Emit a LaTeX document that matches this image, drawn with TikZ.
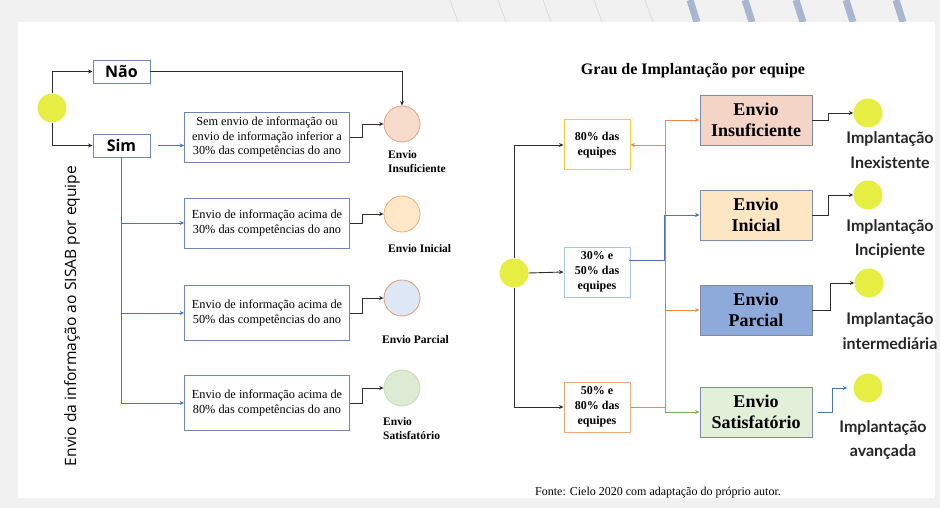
\documentclass[tikz,border=0pt]{standalone}
\usepackage{fontspec}
\setmainfont{Liberation Serif}
\newfontfamily\osans{Open Sans}
\newfontfamily\lato{Lato}
\usetikzlibrary{arrows.meta,calc}
\definecolor{pagegray}{HTML}{F1F1F1}
\definecolor{ylw}{HTML}{E6EE44}
\definecolor{bxblue}{HTML}{6F87B8}
\definecolor{lnblack}{HTML}{2E2E2E}
\definecolor{lnblue}{HTML}{4A72C0}
\definecolor{lnorange}{HTML}{EE8A45}
\definecolor{lngreen}{HTML}{78B050}
\definecolor{stripe}{HTML}{A9B6D2}
\definecolor{faint}{HTML}{D8D8D8}
\definecolor{cInsF}{HTML}{F8DCCB}\definecolor{cInsD}{HTML}{DDA287}
\definecolor{cIniF}{HTML}{FDE7C8}\definecolor{cIniD}{HTML}{E9B070}
\definecolor{cParF}{HTML}{DDE7F5}\definecolor{cParD}{HTML}{D9A07A}
\definecolor{cSatF}{HTML}{DDEBD4}\definecolor{cSatD}{HTML}{C8DDBA}
\definecolor{rInsF}{HTML}{F4D4C6}
\definecolor{rIniF}{HTML}{FCE6C3}
\definecolor{rParF}{HTML}{8EAADB}
\definecolor{rSatF}{HTML}{E2EFD9}
\definecolor{rBorder}{HTML}{7D8BA8}
\definecolor{gold}{HTML}{F2C744}
\definecolor{paleblue}{HTML}{A8C6E0}
\definecolor{paleorange}{HTML}{F0A877}
\definecolor{labgray}{HTML}{262626}
\tikzset{
  ycirc/.style={circle,fill=ylw,draw=none,minimum size=29pt,inner sep=0pt},
  sbox/.style={draw=bxblue,line width=0.9pt,minimum width=57pt,minimum height=23pt,inner sep=0pt,font=\osans\bfseries\fontsize{16}{18}\selectfont},
  tbox/.style={draw=bxblue,line width=0.8pt,minimum width=165pt,inner sep=0pt,align=center,font=\fontsize{12.3}{14.4}\selectfont},
  ecirc/.style={circle,minimum size=36pt,inner sep=0pt,line width=0.8pt},
  elab/.style={font=\bfseries\fontsize{11.5}{14.5}\selectfont,align=left,inner sep=0pt},
  pbox/.style={line width=1pt,minimum width=66pt,minimum height=50pt,inner sep=0pt,align=center,fill=white,font=\bfseries\fontsize{12}{15}\selectfont},
  rbox/.style={draw=rBorder,line width=0.9pt,minimum width=112pt,minimum height=50pt,inner sep=0pt,align=center,font=\bfseries\fontsize{18}{21.5}\selectfont},
  ilab/.style={text=labgray,font=\lato\bfseries\fontsize{16}{24.5}\selectfont,align=center,inner sep=0pt},
  ablk/.style={draw=lnblack,line width=0.9pt,-{Stealth[length=4.5pt,width=4pt]}},
  ablu/.style={draw=lnblue,line width=0.8pt,-{Stealth[length=4.5pt,width=4pt]}},
  aorg/.style={draw=lnorange,line width=0.8pt,-{Stealth[length=4.5pt,width=4pt]}},
  agrn/.style={draw=lngreen,line width=0.8pt,-{Stealth[length=4.5pt,width=4pt]}},
}
\begin{document}
\begin{tikzpicture}[x=1pt,y=-1pt]
\useasboundingbox (0,0) rectangle (940,508);
% background
\fill[pagegray] (0,0) rectangle (940,508);
\foreach \xx in {450,498,543,594,645}{\draw[faint,line width=0.6pt] (\xx,0) -- (\xx+8,22);}
\foreach \xx in {690,745,796,846,896}{\draw[stripe,line width=7pt] (\xx,0) -- (\xx+7,22);}
\fill[white] (18,22) rectangle (935,498);

% ---------------- left diagram ----------------
\node[ycirc] (c1) at (52,108) {};
\node[sbox] (nao) at (121.5,71.5) {Não};
\node[sbox] (sim) at (121.5,145.5) {Sim};
\draw[ablk] (c1.north) |- (nao.west);
\draw[ablk] (c1.south) |- (sim.west);

\node[tbox,minimum height=50pt] (b1) at (267,137) {Sem envio de informação ou\\envio de informação inferior a\\30\% das competências do ano};
\node[tbox,minimum height=50pt] (b2) at (267,223) {Envio de informação acima de\\30\% das competências do ano};
\node[tbox,minimum height=55pt] (b3) at (267,313) {Envio de informação acima de\\50\% das competências do ano};
\node[tbox,minimum height=55pt] (b4) at (267,403) {Envio de informação acima de\\80\% das competências do ano};

\node[ecirc,fill=cInsF,draw=cInsD] (e1) at (402,124) {};
\node[ecirc,fill=cIniF,draw=cIniD] (e2) at (402,214) {};
\node[ecirc,fill=cParF,draw=cParD] (e3) at (402,298) {};
\node[ecirc,fill=cSatF,draw=cSatD] (e4) at (402,388) {};

\node[elab,anchor=north west] (l1) at (388,150) {Envio\\Insuficiente};
\node[elab,anchor=west] (l2) at (388,249) {Envio Inicial};
\node[elab,anchor=west] (l3) at (382,340) {Envio Parcial};
\node[elab,anchor=north west] (l4) at (383,417) {Envio\\Satisfatório};

\draw[ablk] (nao.east) -| (e1.north);
\draw[ablu,shorten <=8pt] (sim.east) -- (sim.east -| b1.west);
\draw[ablu] (sim.south) |- (b2.west);
\draw[ablu] (sim.south) |- (b3.west);
\draw[ablu] (sim.south) |- (b4.west);
\foreach \b/\e in {b1/e1,b2/e2,b3/e3,b4/e4}{
  \draw[ablk] (\b.east) -- ++(13,0) |- (\e.west);
}

\node[font=\osans\fontsize{15.6}{18}\selectfont,rotate=90] (side) at (72,316) {Envio da informação ao SISAB por equipe};

% ---------------- right diagram ----------------
\node[font=\bfseries\fontsize{16}{18}\selectfont] (title) at (693,71) {Grau de Implantação por equipe};

\node[ycirc] (c2) at (514,273) {};
\node[pbox,draw=gold] (p1) at (597,145) {80\% das\\equipes};
\node[pbox,draw=paleblue] (p2) at (597,272) {30\% e\\50\% das\\equipes};
\node[pbox,draw=paleorange] (p3) at (597,407) {50\% e\\80\% das\\equipes};
\draw[ablk] (c2.north) |- (p1.west);
\draw[ablk] (c2.east) -- (p2.west);
\draw[ablk] (c2.south) |- (p3.west);

\node[rbox,fill=rInsF] (r1) at (756,120) {Envio\\Insuficiente};
\node[rbox,fill=rIniF] (r2) at (756,215) {Envio\\Inicial};
\node[rbox,fill=rParF] (r3) at (756,310) {Envio\\Parcial};
\node[rbox,fill=rSatF] (r4) at (756,412) {Envio\\Satisfatório};

\coordinate (jt) at (665,145);
\draw[aorg] (jt) -- (p1.east);
\draw[aorg] (jt) |- (r1.west);
\draw[agrn] (jt) |- (r4.west);
\draw[ablu] ($(p2.east)+(-2,-12)$) -| ($(jt)+(-1,70)$) |- (r2.west);
\draw[aorg] (p3.east) -| ($(jt)+(0,165)$) |- (r3.west);

\node[ycirc] (y1) at (868,113) {};
\node[ycirc] (y2) at (868,195) {};
\node[ycirc] (y3) at (869,283) {};
\node[ycirc] (y4) at (868,388) {};

\draw[ablk] (r1.east) -- ++(16,0) |- (y1.west);
\draw[ablk] (r2.east) -- ++(16,0) |- (y2.west);
\draw[ablk] (r3.east) -- ++(18,0) |- (y3.west);
\draw[ablu,shorten <=6pt,shorten >=6pt] (r4.east) -- ++(20,0) |- (y4.west);

\node[ilab] (t1) at (890,150) {Implantação\\Inexistente};
\node[ilab] (t2) at (890,239) {Implantação\\Incipiente};
\node[ilab] (t3) at (890,331) {Implantação\\intermediária};
\node[ilab] (t4) at (883,440) {Implantação\\avançada};

\node[font=\fontsize{12}{14}\selectfont] (fonte) at (658,493) {Fonte: Cielo 2020 com adaptação do próprio autor.};
\end{tikzpicture}
\end{document}
